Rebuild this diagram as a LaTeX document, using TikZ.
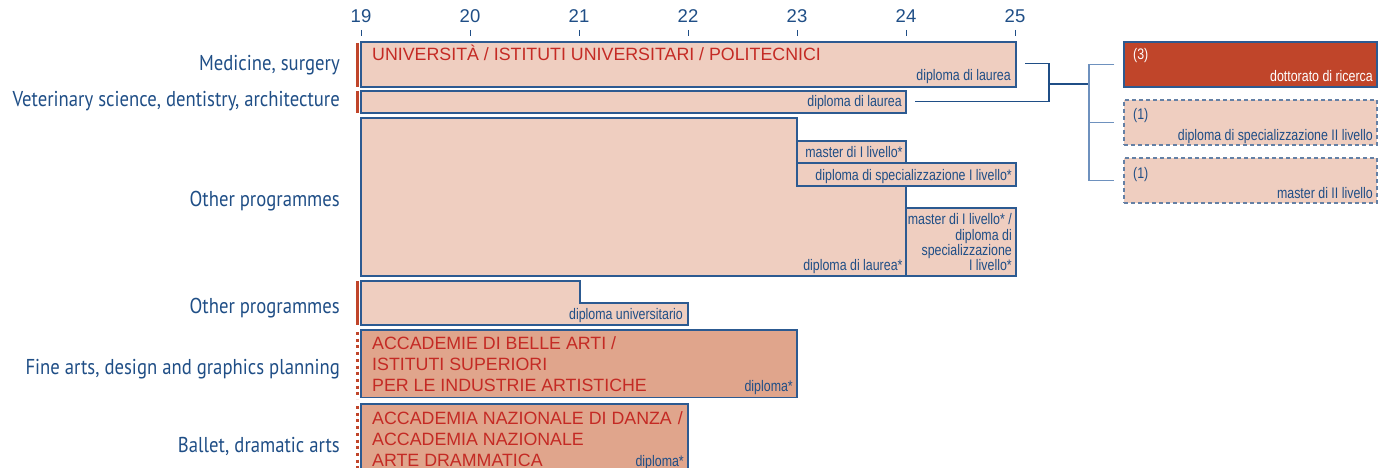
\documentclass[tikz,border=0pt]{standalone}
\usepackage{fontspec}
\setmainfont{Liberation Sans}
\newfontfamily\narrowfont[FakeStretch=0.81]{Liberation Sans}
\newfontfamily\labelfont[FakeStretch=0.87]{PT Sans}
\usetikzlibrary{calc}
\definecolor{navy}{RGB}{31,78,134}
\definecolor{boxline}{RGB}{44,90,145}
\definecolor{palerose}{RGB}{239,206,192}
\definecolor{darkrose}{RGB}{224,165,140}
\definecolor{brick}{RGB}{192,69,42}
\definecolor{redtxt}{RGB}{196,42,36}
\definecolor{forkblue}{RGB}{110,145,190}
\definecolor{dashblue}{RGB}{100,128,165}
\tikzset{
  lightbox/.style={fill=palerose, draw=boxline, line width=1.1pt},
  darkbox/.style={fill=darkrose, draw=boxline, line width=1.1pt},
  rowlbl/.style={anchor=base east, inner sep=0, text=navy, font=\labelfont\fontsize{21.5}{24}\selectfont},
  insttxt/.style={anchor=base west, inner sep=0, text=redtxt, font=\fontsize{17.8}{21}\selectfont},
  degtxt/.style={anchor=base east, inner sep=0, text=navy, font=\narrowfont\fontsize{15.3}{16}\selectfont},
  yearlbl/.style={anchor=base, inner sep=0, text=navy, font=\fontsize{18.5}{20}\selectfont},
  sidebox/.style={minimum width=253pt, minimum height=45pt, inner sep=0, line width=1.1pt},
  linkline/.style={draw=navy, line width=1.2pt},
  forkline/.style={draw=forkblue, line width=1.4pt}
}
\newcommand{\redbar}[2]{\draw[brick, line width=3.4pt] (357.3,#1) -- (357.3,#2);}
\newcommand{\dotbar}[2]{\draw[brick, line width=3pt, dash pattern=on 3pt off 3.7pt] (357.5,#1) -- (357.5,#2);}
\begin{document}
\begin{tikzpicture}[x=1pt, y=-1pt]
  \useasboundingbox (0,0) rectangle (1378,468);
  % age axis
  \foreach \yr [count=\i from 0] in {19,...,25} {
    \node[yearlbl] (y\yr) at (361+109*\i, 23) {\yr};
    \draw[navy, line width=1pt] (361+109*\i, 30) -- (361+109*\i, 36);
  }
  % row labels
  \node[rowlbl] (lmed) at (340,70.5) {Medicine, surgery};
  \node[rowlbl] (lvet) at (340,107) {Veterinary science, dentistry, architecture};
  \node[rowlbl] (loth) at (340,206) {Other programmes};
  \node[rowlbl] (loth2) at (340,313) {Other programmes};
  \node[rowlbl] (lfine) at (340,374) {Fine arts, design and graphics planning};
  \node[rowlbl] (lball) at (340,452) {Ballet, dramatic arts};
  % bars
  \redbar{43}{87}
  \redbar{91}{113}
  \redbar{281}{325}
  \dotbar{332}{399}
  \dotbar{406}{472}
  % row1
  \filldraw[lightbox] (361,42) rectangle (1016,87);
  \node[insttxt] (uni) at (372,61) {UNIVERSITÀ / ISTITUTI UNIVERSITARI / POLITECNICI};
  \node[degtxt] (dmed) at (1011,81) {diploma di laurea};
  % row2
  \filldraw[lightbox] (361,91) rectangle (906,113);
  \node[degtxt] (dvet) at (902,107) {diploma di laurea};
  % row3
  \filldraw[lightbox] (361,118) -- (797,118) -- (797,186) -- (906,186) -- (906,276) -- (361,276) -- cycle;
  \filldraw[lightbox] (797,141) rectangle (906,163);
  \filldraw[lightbox] (797,163) rectangle (1016,186);
  \filldraw[lightbox] (906,208) rectangle (1016,276);
  \node[degtxt] (mast1) at (902.7,157.3) {master di I livello*};
  \node[degtxt] (spec1) at (1012,180) {diploma di specializzazione I livello*};
  \node[degtxt] (doth) at (902.7,270) {diploma di laurea*};
  \node[degtxt] (alt1) at (1012,224) {master di I livello* /};
  \node[degtxt] (alt2) at (1012,240) {diploma di};
  \node[degtxt] (alt3) at (1012,255) {specializzazione};
  \node[degtxt] (alt4) at (1012,270) {I livello*};
  % row4
  \filldraw[lightbox] (361,281) -- (580,281) -- (580,303) -- (688,303) -- (688,325) -- (361,325) -- cycle;
  \node[degtxt] (duni) at (683,319) {diploma universitario};
  % row5
  \filldraw[darkbox] (361,330) rectangle (797,397.5);
  \node[insttxt] (acc1) at (372,349.3) {ACCADEMIE DI BELLE ARTI /};
  \node[insttxt] (acc2) at (372,370.7) {ISTITUTI SUPERIORI};
  \node[insttxt] (acc3) at (372,391.7) {PER LE INDUSTRIE ARTISTICHE};
  \node[degtxt] (dfine) at (793,391.7) {diploma*};
  % row6
  \filldraw[darkbox] (361,404) rectangle (688,474);
  \node[insttxt] (dan1) at (372,424) {ACCADEMIA NAZIONALE DI DANZA\hspace{6pt}/};
  \node[insttxt] (dan2) at (372,445) {ACCADEMIA NAZIONALE};
  \node[insttxt] (dan3) at (372,466) {ARTE DRAMMATICA};
  \node[degtxt] (dball) at (684,466.7) {diploma*};
  % postgraduate
  \node[sidebox, fill=brick, draw=boxline] (phd) at (1250.5,64.5) {};
  \node[sidebox, fill=palerose, draw=dashblue, dash pattern=on 4pt off 3pt] (spec2) at (1250.5,122.5) {};
  \node[sidebox, fill=palerose, draw=dashblue, dash pattern=on 4pt off 3pt] (mast2) at (1250.5,180.5) {};
  \node[degtxt, anchor=base west, text=white] (n3) at (1133,60) {(3)};
  \node[degtxt, text=white] (dphd) at (1373,81.7) {dottorato di ricerca};
  \node[degtxt, anchor=base west] (n1a) at (1133,120) {(1)};
  \node[degtxt] (dspec2) at (1373,140) {diploma di specializzazione II livello};
  \node[degtxt, anchor=base west] (n1b) at (1133,178) {(1)};
  \node[degtxt] (dmast2) at (1373,198) {master di II livello};
  % connectors
  \coordinate (medend) at (1025,63.5);
  \coordinate (vetend) at (915,101.5);
  \coordinate (join) at (1049,84);
  \coordinate (fork) at (1089,84);
  \draw[linkline] (medend) -| (join);
  \draw[linkline] (vetend) -| (join);
  \draw[linkline] (join) -- (fork);
  \draw[forkline] ([xshift=-9pt]phd.west) -| (fork) |- ([xshift=-9pt]mast2.west);
  \draw[forkline] (fork |- spec2.west) -- ([xshift=-9pt]spec2.west);
\end{tikzpicture}
\end{document}
